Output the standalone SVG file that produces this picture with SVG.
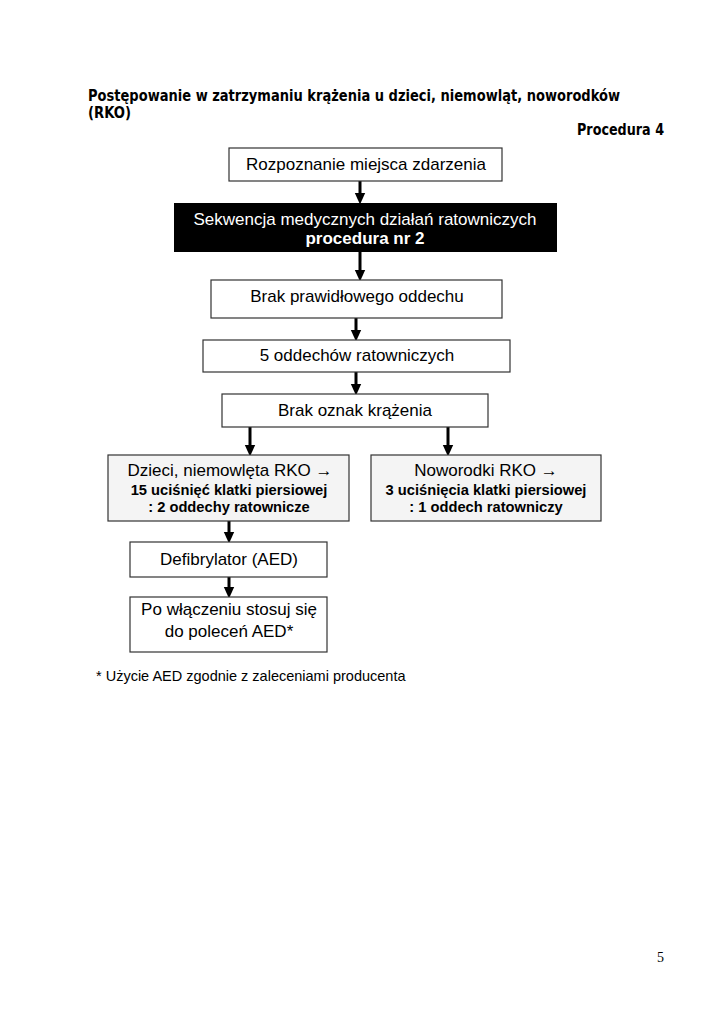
<svg xmlns="http://www.w3.org/2000/svg" width="724" height="1024" viewBox="0 0 724 1024">
<style>
.box{fill:#fff;stroke:#333;stroke-width:1.2}
.gbox{fill:#f4f4f4;stroke:#333;stroke-width:1.2}
.t{font-family:"Liberation Sans",Arial,sans-serif;font-size:17px;fill:#000;text-anchor:middle}
.tb{font-family:"Liberation Sans",Arial,sans-serif;font-size:14.7px;font-weight:bold;fill:#000;text-anchor:middle}
.h{font-family:"DejaVu Sans",Verdana,sans-serif;font-size:15px;font-weight:bold;fill:#000}
.c{stroke:#000;stroke-width:3;fill:none;marker-end:url(#ah)}
</style>
<defs>
<marker id="ah" markerWidth="4" markerHeight="4" refX="1.5" refY="2" orient="auto" markerUnits="strokeWidth">
<path d="M0,0.2 L4,2 L0,3.8 Z" fill="#000"/>
</marker>
</defs>
<rect width="724" height="1024" fill="#fff"/>
<text class="h" x="88" y="101" textLength="532" lengthAdjust="spacingAndGlyphs">Postępowanie w zatrzymaniu krążenia u dzieci, niemowląt, noworodków</text>
<text class="h" x="88" y="118" textLength="43" lengthAdjust="spacingAndGlyphs">(RKO)</text>
<text class="h" x="577" y="135" textLength="87" lengthAdjust="spacingAndGlyphs">Procedura 4</text>
<g id="connectors">
<line class="c" x1="360" y1="181" x2="360" y2="197"/>
<line class="c" x1="360" y1="252" x2="360" y2="274"/>
<line class="c" x1="356" y1="318" x2="356" y2="334"/>
<line class="c" x1="356" y1="372" x2="356" y2="388"/>
<line class="c" x1="250" y1="427" x2="250" y2="449"/>
<line class="c" x1="448" y1="427" x2="448" y2="449"/>
<line class="c" x1="229" y1="521" x2="229" y2="536"/>
<line class="c" x1="229" y1="577" x2="229" y2="591"/>
</g>
<g id="n1"><rect class="box" x="229" y="148" width="273" height="33"/><text class="t" x="366" y="170">Rozpoznanie miejsca zdarzenia</text></g>
<g id="n2"><rect x="174" y="203" width="383" height="49" fill="#000"/><text class="t" x="365" y="225" style="fill:#fff">Sekwencja medycznych działań ratowniczych</text><text class="t" x="365" y="244" style="fill:#fff;font-weight:bold">procedura nr 2</text></g>
<g id="n3"><rect class="box" x="211" y="280" width="291" height="38"/><text class="t" x="357" y="302">Brak prawidłowego oddechu</text></g>
<g id="n4"><rect class="box" x="203" y="340" width="307" height="32"/><text class="t" x="357" y="361">5 oddechów ratowniczych</text></g>
<g id="n5"><rect class="box" x="222" y="394" width="266" height="33"/><text class="t" x="355" y="416">Brak oznak krążenia</text></g>
<g id="n6"><rect class="gbox" x="108" y="455" width="241" height="66"/><text class="t" x="230" y="476">Dzieci, niemowlęta RKO →</text><text class="tb" x="229" y="495">15 uciśnięć klatki piersiowej</text><text class="tb" x="229" y="512">: 2 oddechy ratownicze</text></g>
<g id="n7"><rect class="gbox" x="371" y="455" width="230" height="66"/><text class="t" x="486" y="476">Noworodki RKO →</text><text class="tb" x="486" y="495">3 uciśnięcia klatki piersiowej</text><text class="tb" x="486" y="512">: 1 oddech ratowniczy</text></g>
<g id="n8"><rect class="box" x="130" y="542" width="197" height="35"/><text class="t" x="229" y="565">Defibrylator (AED)</text></g>
<g id="n9"><rect class="box" x="130" y="597" width="197" height="55"/><text class="t" x="229" y="615">Po włączeniu stosuj się</text><text class="t" x="229" y="637">do poleceń AED*</text></g>
<text x="96" y="681" style="font-family:'Liberation Sans',Arial,sans-serif;font-size:14.5px;fill:#000">* Użycie AED zgodnie z zaleceniami producenta</text>
<text x="657" y="962" style="font-family:'Liberation Serif','Times New Roman',serif;font-size:14px;fill:#000">5</text>
</svg>
